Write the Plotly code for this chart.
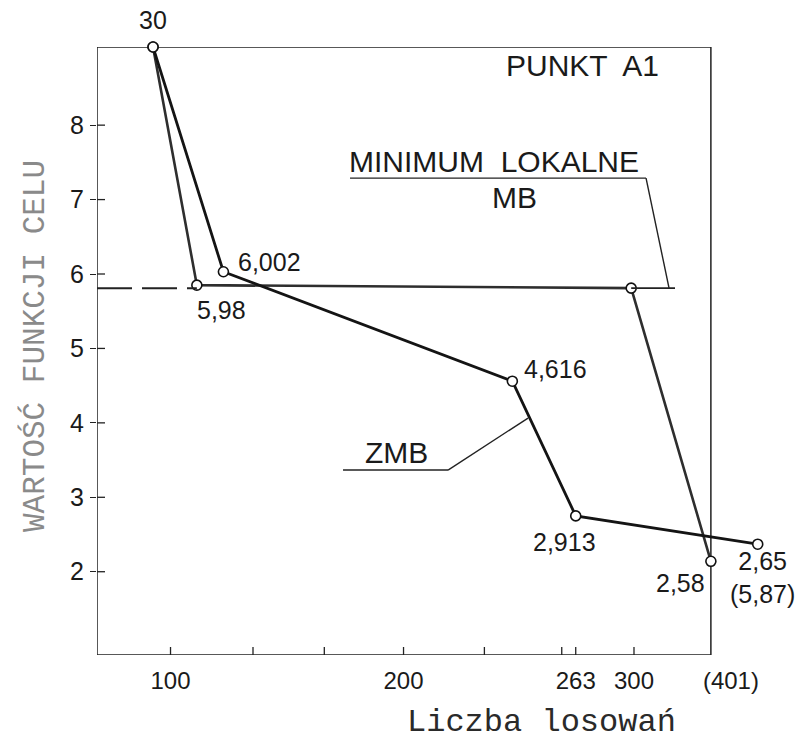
import plotly.graph_objects as go

# ---------------- data (positions on the drawn, hand-made scale) ----------------
Y_TOP = 9.05                     # top edge of the frame (off-scale value "30")
ZMB_X = [92.5, 122.7, 246.7, 273.9, 352.0]
ZMB_Y = [Y_TOP, 6.03, 4.56, 2.75, 2.37]
MB_X = [92.5, 111.3, 297.7, 331.9]
MB_Y = [Y_TOP, 5.85, 5.81, 2.14]
PLATEAU_Y = 5.81
PLATEAU_END_X = 316.5

Y_TICKS = [2, 3, 4, 5, 6, 7, 8]
X_TICK_MARKS = [100, 135.4, 166.0, 200, 234.7, 267.9, 273.9, 298.9]
X_LABEL_POS = [100, 200, 273.9, 298.9, 340.5]
X_LABEL_TEXT = ["100", "200", "263", "300", "(401)"]
X_FRAME_END = 331.9

X_RANGE = [68.45, 368.0]
Y_RANGE = [0.881, Y_TOP]

# ---------------- helpers: page pixel -> layout coords ----------------
def px_x(p):
    return 100 + (p - 170.5) / 2.33

def px_y(p):
    return 2 + (571.7 - p) / 74.45

def paper_x(p):
    return (p - 97) / 698.0

def paper_y(p):
    return (655 - p) / 608.0

NUM_FONT = dict(family="Liberation Sans, Arial, sans-serif", size=25, color="#1a1a1a")
BIG_FONT = dict(family="Liberation Sans, Arial, sans-serif", size=30, color="#1a1a1a")
MONO_FONT = dict(family="Liberation Mono, Courier New, monospace", size=32, color="#2a2a2a")

fig = go.Figure()

marker = dict(symbol="circle", size=10, color="white", line=dict(color="#111111", width=1.6))

fig.add_trace(go.Scatter(x=MB_X, y=MB_Y, mode="lines+markers",
                         line=dict(color="#2e2e2e", width=2.6), marker=marker,
                         cliponaxis=False, showlegend=False, hoverinfo="skip"))
fig.add_trace(go.Scatter(x=ZMB_X, y=ZMB_Y, mode="lines+markers",
                         line=dict(color="#141414", width=2.8), marker=marker,
                         cliponaxis=False, showlegend=False, hoverinfo="skip"))

shapes = []
# frame
shapes.append(dict(type="rect", xref="x", yref="y", x0=X_RANGE[0], x1=X_FRAME_END,
                   y0=Y_RANGE[0], y1=Y_TOP, line=dict(color="#222222", width=1.5), layer="below"))
# dashed level line to the local minimum
shapes.append(dict(type="line", xref="x", yref="y", x0=X_RANGE[0], x1=MB_X[1],
                   y0=PLATEAU_Y, y1=PLATEAU_Y, line=dict(color="#222222", width=2, dash="35px,10px")))
# plateau extension
shapes.append(dict(type="line", xref="x", yref="y", x0=MB_X[2], x1=PLATEAU_END_X,
                   y0=PLATEAU_Y, y1=PLATEAU_Y, line=dict(color="#222222", width=1.6)))
# inside parts of ticks
for t in Y_TICKS:
    shapes.append(dict(type="line", xref="x", yref="y", xsizemode="pixel", xanchor=X_RANGE[0],
                       x0=0, x1=8, y0=t, y1=t, line=dict(color="#222222", width=1.3)))
for t in X_TICK_MARKS:
    shapes.append(dict(type="line", xref="x", yref="y", ysizemode="pixel", yanchor=Y_RANGE[0],
                       y0=-7, y1=8, x0=t, x1=t, line=dict(color="#222222", width=1.3)))
# callout: MINIMUM LOKALNE MB
bracket = [(350, 178), (646, 178), (669, 288)]
for (a, b) in zip(bracket[:-1], bracket[1:]):
    shapes.append(dict(type="line", xref="x", yref="y", x0=px_x(a[0]), y0=px_y(a[1]),
                       x1=px_x(b[0]), y1=px_y(b[1]), line=dict(color="#222222", width=1.4)))
# callout: ZMB
zmb_call = [(343, 470), (448, 470), (528, 418)]
for (a, b) in zip(zmb_call[:-1], zmb_call[1:]):
    shapes.append(dict(type="line", xref="x", yref="y", x0=px_x(a[0]), y0=px_y(a[1]),
                       x1=px_x(b[0]), y1=px_y(b[1]), line=dict(color="#222222", width=1.4)))

ann = []
def lab(text, x, y, dx, dy, font=NUM_FONT):
    ann.append(dict(text=text, x=x, y=y, xref="x", yref="y", xshift=dx, yshift=dy,
                    showarrow=False, font=font, xanchor="center", yanchor="middle"))

# point labels
lab("30", ZMB_X[0], ZMB_Y[0], 0, 27)
lab("6,002", ZMB_X[1], ZMB_Y[1], 46, 10)
lab("5,98", MB_X[1], MB_Y[1], 25, -25)
lab("4,616", ZMB_X[2], ZMB_Y[2], 43, 12)
lab("2,913", ZMB_X[3], ZMB_Y[3], -11, -26)
lab("2,58", MB_X[3], MB_Y[3], -30, -22)
lab("2,65<br>(5,87)", ZMB_X[4], ZMB_Y[4], 5, -33)

# descriptive texts
lab("PUNKT  A1", px_x(582), px_y(65), 0, 0, BIG_FONT)
lab("MINIMUM  LOKALNE", px_x(494), px_y(161), 0, 0, BIG_FONT)
lab("MB", px_x(514), px_y(197), 0, 0, BIG_FONT)
lab("ZMB", px_x(396), px_y(452), 0, 0, BIG_FONT)

# axis titles
ann.append(dict(text="Liczba losowań", x=paper_x(541), y=paper_y(722), xref="paper", yref="paper",
                showarrow=False, font=MONO_FONT, xanchor="center", yanchor="middle"))
ann.append(dict(text="WARTOŚĆ FUNKCJI CELU", x=paper_x(35), y=paper_y(346), xref="paper", yref="paper",
                showarrow=False, textangle=-90,
                font=dict(family="Liberation Mono, Courier New, monospace", size=31, color="#8a8a8a"),
                xanchor="center", yanchor="middle"))

fig.update_layout(
    width=801, height=742,
    margin=dict(l=97, r=6, t=47, b=87),
    paper_bgcolor="white", plot_bgcolor="white",
    shapes=shapes, annotations=ann,
    xaxis=dict(range=X_RANGE, showgrid=False, zeroline=False, showline=False,
               tickmode="array", tickvals=X_LABEL_POS, ticktext=X_LABEL_TEXT,
               ticks="", tickfont=dict(family="Liberation Sans, Arial, sans-serif", size=24, color="#1a1a1a"),
               ticklabelstandoff=9),
    yaxis=dict(range=Y_RANGE, showgrid=False, zeroline=False, showline=False,
               tickmode="array", tickvals=Y_TICKS, ticks="outside", ticklen=6,
               tickcolor="#222222", tickwidth=1.3,
               tickfont=dict(family="Liberation Sans, Arial, sans-serif", size=25, color="#1a1a1a"),
               ticklabelstandoff=1),
)

fig.write_html("out.html")
